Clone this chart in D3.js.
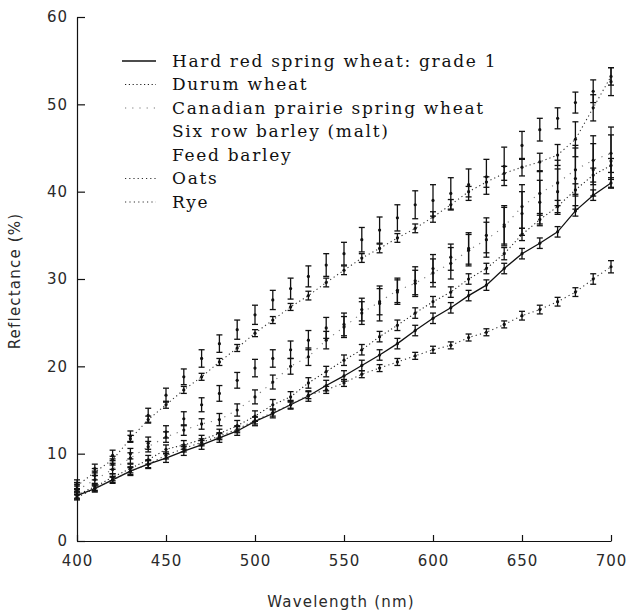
<!DOCTYPE html>
<html>
<head>
<meta charset="utf-8">
<script src="https://d3js.org/d3.v7.min.js"></script>
<style>
  body { margin: 0; background: #fff; }
  .tick text { font-family: "DejaVu Sans", sans-serif; font-size: 15px; fill: #2a2a2a; letter-spacing: 1px; }
  .axis path, .axis line { stroke: #111; stroke-width: 1.2; }
  .legend text { font-family: "DejaVu Serif", serif; font-size: 17px; fill: #111; letter-spacing: 1.7px; }
  .title { font-family: "DejaVu Sans", sans-serif; font-size: 15px; fill: #2a2a2a; letter-spacing: 1.2px; }
</style>
</head>
<body>
<svg width="628" height="616"></svg>
<script>
// wavelengths (nm)
const wavelengths = d3.range(400, 701, 10);

// reflectance (%) per grain
const hardRed   = [5.2,6.0,7.0,8.0,8.8,9.5,10.3,11.0,11.8,12.6,13.7,14.6,15.6,16.6,17.8,18.9,20.1,21.3,22.6,24.1,25.5,26.7,28.1,29.3,31.2,32.9,34.1,35.4,37.8,39.6,41.0];
const durum     = [5.3,6.2,7.3,8.3,9.3,10.5,11.0,11.6,12.3,13.2,14.3,15.6,16.5,18.1,19.4,20.7,21.9,23.4,24.7,26.1,27.4,28.5,30.0,31.2,32.9,35.1,36.8,38.3,40.2,41.9,43.0];
const canadian  = [5.8,7.0,8.2,9.5,10.8,11.9,12.7,13.4,13.9,15.0,16.5,18.2,20.0,21.1,23.0,24.5,26.1,27.4,28.7,29.5,30.7,31.8,33.3,34.5,36.0,38.3,39.8,41.0,42.5,43.6,44.4];
const sixRow    = [6.5,8.3,9.8,12.0,14.4,16.7,18.8,20.9,22.6,24.2,25.9,27.6,28.9,30.3,31.6,32.9,34.5,35.6,37.0,38.5,39.0,39.8,40.8,41.7,42.9,45.3,47.1,48.4,50.2,51.5,52.6];
const feed      = [6.0,7.5,8.8,10.0,11.2,12.5,14.0,15.6,16.9,18.4,19.8,20.9,21.9,23.0,24.4,24.8,26.5,27.2,28.5,29.8,31.2,32.5,33.5,35.0,36.2,37.5,38.8,40.0,41.5,42.5,43.5];
const oats      = [6.3,7.9,9.3,11.7,13.9,15.6,17.3,18.8,20.5,22.1,23.8,25.3,26.8,28.1,29.6,31.0,32.4,33.5,34.7,35.8,37.1,38.5,40.0,41.1,42.1,42.8,43.4,44.2,46.0,49.6,53.2];
const rye       = [5.0,6.0,7.0,8.0,8.8,9.8,10.6,11.3,12.0,12.8,13.8,14.7,15.6,16.7,17.3,18.1,19.1,19.8,20.5,21.2,21.9,22.4,23.3,23.9,24.8,25.8,26.5,27.4,28.5,30.0,31.4];

// half-length of each error bar (%)
const hardRedErr  = [0.4,0.4,0.4,0.5,0.5,0.5,0.5,0.5,0.5,0.5,0.5,0.5,0.5,0.6,0.6,0.6,0.6,0.6,0.6,0.6,0.6,0.6,0.6,0.6,0.6,0.6,0.6,0.6,0.6,0.6,0.6];
const durumErr    = [0.4,0.4,0.4,0.5,0.5,0.5,0.5,0.5,0.5,0.6,0.6,0.6,0.6,0.6,0.6,0.6,0.6,0.6,0.6,0.6,0.6,0.6,0.6,0.6,0.7,0.7,0.7,0.7,0.7,0.8,0.8];
const canadianErr = [0.5,0.5,0.5,0.6,0.6,0.6,0.6,0.6,0.7,0.7,0.8,0.8,0.9,1.0,1.0,1.2,1.3,1.5,1.4,1.5,1.6,1.8,1.8,2.0,2.2,2.5,2.5,2.6,2.8,2.8,3.0];
const sixRowErr   = [0.5,0.5,0.6,0.6,0.8,0.8,0.9,1.0,1.0,1.1,1.1,1.1,1.2,1.2,1.3,1.3,1.4,1.5,1.5,1.6,1.8,1.8,1.8,2.0,2.2,1.6,1.3,1.2,1.2,1.3,1.6];
const feedErr     = [0.5,0.5,0.6,0.6,0.7,0.7,0.8,0.8,0.9,0.9,1.0,1.0,1.0,1.1,1.2,1.3,1.3,2.0,1.4,1.6,1.6,1.5,1.8,2.0,2.2,2.5,2.5,2.6,3.5,3.0,3.0];
const oatsErr     = [0.4,0.4,0.4,0.4,0.4,0.4,0.4,0.4,0.4,0.4,0.4,0.4,0.4,0.5,0.5,0.5,0.5,0.5,0.5,0.5,0.6,0.6,0.6,0.6,0.8,1.0,1.0,1.2,2.0,1.5,1.0];
const ryeErr      = [0.3,0.3,0.3,0.4,0.4,0.4,0.4,0.4,0.4,0.4,0.4,0.4,0.4,0.4,0.4,0.4,0.4,0.4,0.4,0.4,0.4,0.4,0.4,0.4,0.4,0.5,0.5,0.5,0.5,0.6,0.7];

const names = ["Hard red spring wheat: grade 1", "Durum wheat", "Canadian prairie spring wheat",
               "Six row barley (malt)", "Feed barley", "Oats", "Rye"];
const values = [hardRed, durum, canadian, sixRow, feed, oats, rye];
const errors = [hardRedErr, durumErr, canadianErr, sixRowErr, feedErr, oatsErr, ryeErr];
// line look: null means no joining line drawn
const dashes = ["none", "1.2,2.6", "1.2,6", null, null, "1.2,3", "1.2,3.2"];
const strokes = ["#111", "#222", "#777", "#333", "#333", "#333", "#333"];

const xTicks = [400, 450, 500, 550, 600, 650, 700];
const yTicks = [0, 10, 20, 30, 40, 50, 60];

const svg = d3.select("svg");
const x = d3.scaleLinear().domain([400, 700]).range([77, 611]);
const y = d3.scaleLinear().domain([0, 60]).range([541, 17]);

svg.append("g")
  .attr("class", "axis")
  .attr("transform", "translate(0,541)")
  .call(d3.axisBottom(x).tickValues(xTicks).tickSizeInner(-6).tickSizeOuter(0).tickPadding(14));

svg.append("g")
  .attr("class", "axis")
  .attr("transform", "translate(77,0)")
  .call(d3.axisLeft(y).tickValues(yTicks).tickSizeInner(-8).tickSizeOuter(0).tickPadding(9));

// series
const line = d3.line().x((d, i) => x(wavelengths[i])).y(d => y(d));

values.forEach(function(vals, s) {
  const g = svg.append("g");
  if (dashes[s] !== null) {
    g.append("path")
      .attr("d", line(vals))
      .attr("fill", "none")
      .attr("stroke", strokes[s])
      .attr("stroke-width", s === 0 ? 1.3 : 1.1)
      .attr("stroke-dasharray", dashes[s]);
  }
  vals.forEach(function(v, i) {
    const cx = x(wavelengths[i]);
    const e = errors[s][i];
    const y1 = y(v + e), y2 = y(v - e);
    g.append("line").attr("x1", cx).attr("x2", cx).attr("y1", y1).attr("y2", y2)
      .attr("stroke", "#111").attr("stroke-width", 1.3);
    [y1, y2].forEach(function(yy) {
      g.append("line").attr("x1", cx - 3).attr("x2", cx + 3).attr("y1", yy).attr("y2", yy)
        .attr("stroke", "#111").attr("stroke-width", 1.3);
    });
    g.append("circle").attr("cx", cx).attr("cy", y(v)).attr("r", 1.6).attr("fill", "#111");
  });
});

// legend
const legend = svg.append("g").attr("class", "legend");
names.forEach(function(n, i) {
  const ly = 61 + i * 23.5;
  if (dashes[i] !== null) {
    legend.append("line")
      .attr("x1", i === 0 ? 122 : 125).attr("x2", 156)
      .attr("y1", ly).attr("y2", ly)
      .attr("stroke", strokes[i])
      .attr("stroke-width", i === 0 ? 1.3 : 1.1)
      .attr("stroke-dasharray", dashes[i]);
  }
  legend.append("text")
    .attr("x", 172).attr("y", ly)
    .attr("dy", "0.35em")
    .text(n);
});

// axis titles
svg.append("text")
  .attr("class", "title")
  .attr("text-anchor", "middle")
  .attr("x", 341).attr("y", 607)
  .text("Wavelength (nm)");

svg.append("text")
  .attr("class", "title")
  .attr("text-anchor", "middle")
  .attr("transform", "rotate(-90)")
  .attr("x", -281).attr("y", 20)
  .text("Reflectance (%)");
</script>
</body>
</html>
